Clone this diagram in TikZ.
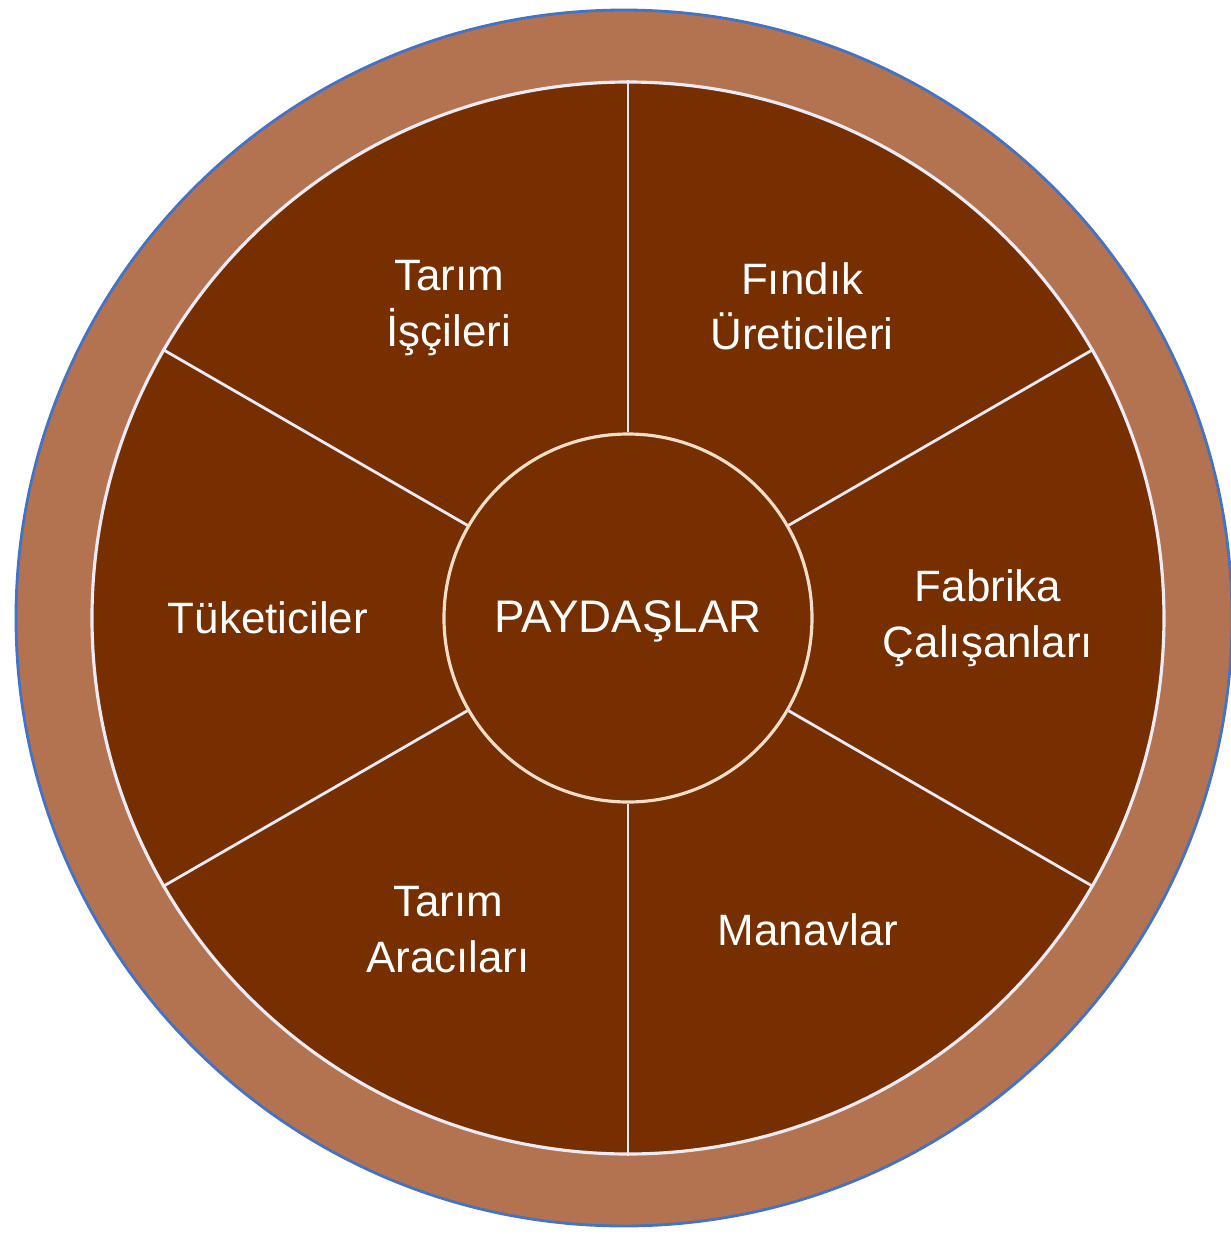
\documentclass[tikz,border=0pt]{standalone}
\usepackage{fontspec}
\setmainfont{Liberation Sans}
\usepackage{xcolor}
\usetikzlibrary{positioning}
\definecolor{nutbrown}{RGB}{119,47,0}
\definecolor{shellbrown}{RGB}{179,115,80}
\definecolor{rimblue}{RGB}{68,114,196}
\definecolor{spokewhite}{RGB}{236,234,244}
\definecolor{hubline}{RGB}{242,222,200}

\begin{document}
\begin{tikzpicture}[
    ring/.style={circle,fill=shellbrown,draw=rimblue,line width=0.8pt,
                 minimum size=12.16cm,inner sep=0pt},
    wheel/.style={circle,fill=nutbrown,draw=spokewhite,line width=0.9pt,
                  minimum size=10.72cm,inner sep=0pt},
    hub/.style={circle,fill=nutbrown,draw=hubline,line width=0.9pt,
                minimum size=3.68cm,inner sep=0pt},
    hubtxt/.style={text=white,font=\fontsize{13}{15}\selectfont},
    lbl/.style={text=white,align=center,font=\fontsize{12.5}{15.8}\selectfont},
    spoke/.style={draw=spokewhite,line width=0.8pt},
]
\useasboundingbox (-6.28,-6.16) rectangle (6.03,6.18);

% ---- outer ring and the wheel ----
\node[ring] (shell) at (-0.04,0) {};
\node[wheel] (wheel) at (0,0) {};

% ---- hub and six spokes ----
\node[hub] (hub) at (0,0) {};
\foreach \a in {30,90,...,330}
  \draw[spoke] (hub.\a) -- (wheel.\a);
\node[hubtxt] (title) at ([yshift=-0.03cm]hub) {PAYDAŞLAR};

% ---- stakeholder labels ----
\node[lbl] (uretici)  at (60.8:3.57)  {Fındık\\Üreticileri};
\node[lbl] (isci)     at (120:3.58) {Tarım\\İşçileri};
\node[lbl] (tuketici) at (180:3.6) {Tüketiciler};
\node[lbl] (araci)    at (240:3.6) {Tarım\\Aracıları};
\node[lbl] (manav)    at (300:3.6) {Manavlar};
\node[lbl] (fabrika)  at (0:3.6)   {Fabrika\\Çalışanları};

\end{tikzpicture}
\end{document}
